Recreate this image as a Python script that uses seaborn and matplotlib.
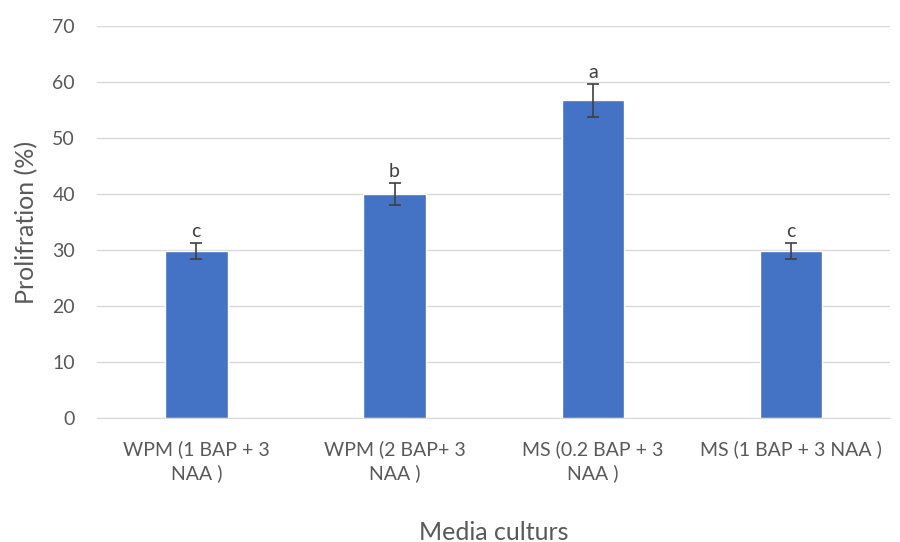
import numpy as np
import pandas as pd
import seaborn as sns
import matplotlib.pyplot as plt

# Datos
medios = ['WPM (1 BAP + 3\nNAA )', 'WPM (2 BAP+ 3\nNAA )', 'MS (0.2 BAP + 3\nNAA )', 'MS (1 BAP + 3 NAA )']
proliferacion = [29.8, 40.0, 56.7, 29.8]
error_std = [1.4, 2.0, 2.9, 1.4]
letras = ['c', 'b', 'a', 'c']

df = pd.DataFrame({'medio': medios, 'prolif': proliferacion})

sns.set_style('white')
plt.rcParams['font.family'] = ['Lato', 'DejaVu Sans']

fig = plt.figure(figsize=(9, 5.42), dpi=100)
ax = fig.add_axes([0.108, 0.229, 0.881, 0.723])

sns.barplot(data=df, x='medio', y='prolif', color='#4472C4', saturation=1,
            width=0.315, errorbar=None, ax=ax, zorder=2)

x_pos = np.arange(len(medios))
ax.errorbar(x_pos, proliferacion, yerr=error_std, fmt='none', ecolor='#404040',
            elinewidth=1.2, capsize=4, capthick=1.2, zorder=3)

for x, v, e, l in zip(x_pos, proliferacion, error_std, letras):
    ax.annotate(l, (x, v + e), xytext=(0, 2), textcoords='offset points',
                ha='center', va='bottom', fontsize=14, color='#404040')

ax.set_ylim(0, 70)
ax.set_yticks(range(0, 71, 10))
ax.set_xlim(-0.5, 3.5)
ax.grid(axis='y', color='#d9d9d9', linewidth=1, zorder=0)
ax.set_axisbelow(True)
for s in ['top', 'right', 'left']:
    ax.spines[s].set_visible(False)
ax.spines['bottom'].set_color('#d9d9d9')

ax.tick_params(axis='y', length=0, pad=16, labelsize=14, labelcolor='#595959')
ax.tick_params(axis='x', length=0, pad=16, labelsize=14, labelcolor='#595959')
for t in ax.get_xticklabels():
    t.set_multialignment('center')
    t.set_linespacing(1.4)

ax.set_xlabel('Media culturs', fontsize=18, color='#595959', labelpad=28)
ax.set_ylabel('Prolifration (%)', fontsize=18, color='#595959', labelpad=10)

plt.savefig('out.png', dpi=100)
